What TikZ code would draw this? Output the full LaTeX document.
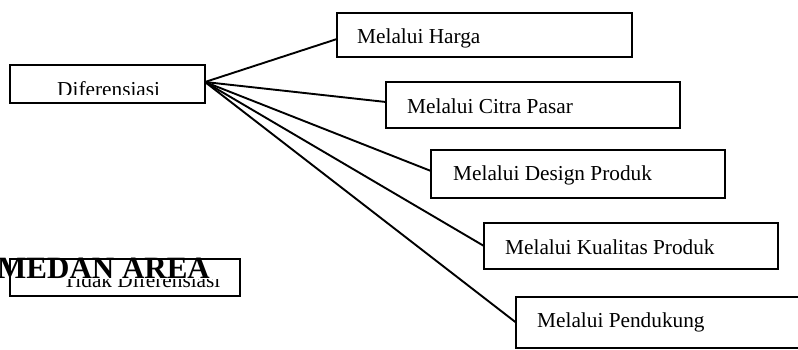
\documentclass[tikz,border=0pt]{standalone}
\usepackage{fontspec}
\setmainfont{Liberation Serif}
\begin{document}
\begin{tikzpicture}[x=1pt,y=-1pt,
  box/.style={draw,line width=2pt,rectangle,inner sep=0pt,outer sep=0pt},
  label/.style={anchor=base west,inner sep=0pt,font=\fontsize{21.3}{25}\selectfont},
  link/.style={line width=1.9pt}]
\useasboundingbox (0,0) rectangle (798,349);

% boxes (given by centre and size)
\node[box,minimum width=195pt,minimum height=38pt] (dif) at (107.5,84) {};
\node[box,minimum width=230pt,minimum height=37pt] (tdk) at (125,277.5) {};
\node[box,minimum width=295pt,minimum height=44pt] (harga) at (484.5,35) {};
\node[box,minimum width=294pt,minimum height=46pt] (citra) at (533,105) {};
\node[box,minimum width=294pt,minimum height=48pt] (design) at (578,174) {};
\node[box,minimum width=294pt,minimum height=46pt] (kual) at (631,246) {};
\node[box,minimum width=294pt,minimum height=51pt] (dukung) at (663,322.5) {};

% labels
\node[label] (tharga) at (357,43) {Melalui Harga};
\node[label] (tcitra) at (407,113) {Melalui Citra Pasar};
\node[label] (tdesign) at (453,180) {Melalui Design Produk};
\node[label] (tkual) at (505,254) {Melalui Kualitas Produk};
\node[label] (tdukung) at (537,327) {Melalui Pendukung};

% labels cut off by their text frames
\begin{scope}
  \clip (10,65) rectangle (205,94.5);
  \node[label] (tdif) at (57,96) {Diferensiasi};
\end{scope}
\begin{scope}
  \clip (10,279) rectangle (240,296);
  \node[label] (ttdk) at (63,287) {Tidak Diferensiasi};
\end{scope}

% connectors
\draw[link] ([yshift=2pt]dif.east) -- ([yshift=-4pt]harga.west);
\draw[link] ([yshift=2pt]dif.east) -- ([yshift=3pt]citra.west);
\draw[link] ([yshift=2pt]dif.east) -- ([yshift=3pt]design.west);
\draw[link] ([yshift=2pt]dif.east) -- (kual.west);
\draw[link] ([yshift=2pt]dif.east) -- (dukung.west);

% overprinted heading
\node[anchor=base west,inner sep=0pt,font=\bfseries\fontsize{31}{32}\selectfont] (medan) at (-3,278) {MEDAN AREA};
\end{tikzpicture}
\end{document}
